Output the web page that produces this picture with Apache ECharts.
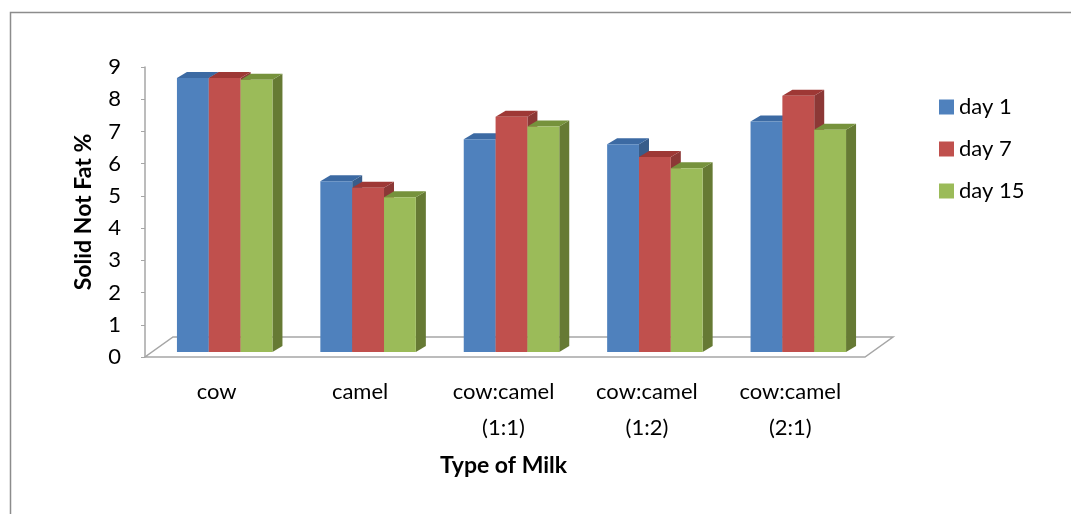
<!DOCTYPE html>
<html>
<head>
<meta charset="utf-8">
<title>Solid Not Fat %</title>
<script src="https://cdn.jsdelivr.net/npm/echarts@6/dist/echarts.min.js"></script>
<style>
	html, body { margin: 0; padding: 0; background: #fff; }
	#chart { width: 1071px; height: 514px; }
</style>
</head>
<body>
<div id="chart"></div>
<script>
// categories and values
var milkTypes = ['cow', 'camel', 'cow:camel\n(1:1)', 'cow:camel\n(1:2)', 'cow:camel\n(2:1)'];
var day1 = [8.5, 5.3, 6.6, 6.45, 7.15];
var day7 = [8.5, 5.1, 7.3, 6.05, 7.95];
var day15 = [8.45, 4.8, 7.0, 5.7, 6.9];
var yTicks = [0, 1, 2, 3, 4, 5, 6, 7, 8, 9];

// face colours: front, top, side
var faces = {
	'day 1': ['#4F81BD', '#3C6AA3', '#385D8A'],
	'day 7': ['#C0504D', '#9E3835', '#8C3836'],
	'day 15': ['#9BBB59', '#76923C', '#667A34']
};

var font = 'Lato, "Liberation Sans", sans-serif';

// 3d bar drawn from the axes (k = position inside the group)
function barRenderer(k, cols) {
	return function(params, api) {
		var idx = api.value(0);
		var base = api.coord([idx, 0]);
		var top = api.coord([idx, api.value(1)]);
		var bw = api.size([1, 0])[0] * 0.222;
		var x0 = base[0] - 1.5 * bw + k * bw + 8;
		var yb = base[1] - 5;
		var yt = top[1] - 5;
		var dx = 10, dy = -6;
		return {
			type: 'group',
			children: [{
				type: 'polygon',
				shape: { points: [[x0 + bw, yb], [x0 + bw + dx, yb + dy], [x0 + bw + dx, yt + dy], [x0 + bw, yt]] },
				style: { fill: cols[2] }
			}, {
				type: 'polygon',
				shape: { points: [[x0, yt], [x0 + dx, yt + dy], [x0 + bw + dx, yt + dy], [x0 + bw, yt]] },
				style: { fill: cols[1] }
			}, {
				type: 'rect',
				shape: { x: x0, y: yt, width: bw, height: yb - yt },
				style: { fill: cols[0] }
			}]
		};
	};
}

// floor of the 3d plot
function floorRenderer(params, api) {
	var cs = params.coordSys;
	var yb = cs.y + cs.height;
	var xl = cs.x, xr = cs.x + cs.width + 3;
	return {
		type: 'polygon',
		shape: { points: [[xl, yb], [xr, yb], [xr + 28, yb - 20], [xl + 28, yb - 20]] },
		style: { fill: '#fff', stroke: '#A6A6A6', lineWidth: 1.5 }
	};
}

function daySeries(name, k, values) {
	var data = [];
	for (var i = 0; i < values.length; i++) {
		data.push([i, values[i]]);
	}
	return {
		name: name,
		type: 'custom',
		renderItem: barRenderer(k, faces[name]),
		itemStyle: { color: faces[name][0] },
		encode: { x: 0, y: 1 },
		data: data
	};
}

var myChart = echarts.init(document.getElementById('chart'));
var option = {
	animation: false,
	backgroundColor: '#fff',
	graphic: [{
		type: 'rect',
		left: 8, top: 10,
		shape: { width: 1200, height: 600 },
		style: { fill: 'none', stroke: '#8C8C8C', lineWidth: 1.5 },
		silent: true
	}],
	legend: {
		orient: 'vertical',
		left: 934, top: 91,
		itemWidth: 15, itemHeight: 15,
		itemGap: 20,
		icon: 'rect',
		data: ['day 1', 'day 7', 'day 15'],
		textStyle: { fontSize: 22, color: '#000', fontFamily: font }
	},
	grid: { left: 145, right: 209, top: 67, bottom: 157 },
	xAxis: {
		type: 'category',
		data: milkTypes,
		name: 'Type of Milk',
		nameLocation: 'middle',
		nameGap: 97,
		nameTextStyle: { fontSize: 23, fontWeight: 'bold', color: '#000', fontFamily: font },
		axisLine: { show: false },
		axisTick: { show: false },
		axisLabel: { fontSize: 22, color: '#000', lineHeight: 36, margin: 17, fontFamily: font }
	},
	yAxis: {
		type: 'value',
		min: yTicks[0],
		max: yTicks[yTicks.length - 1],
		interval: 1,
		name: 'Solid Not Fat %',
		nameLocation: 'middle',
		nameGap: 50,
		nameTextStyle: { fontSize: 23, fontWeight: 'bold', color: '#000', fontFamily: font },
		axisLine: { show: true, lineStyle: { color: '#A6A6A6', width: 1.5 } },
		axisTick: { show: true, length: 4, lineStyle: { color: '#A6A6A6' } },
		splitLine: { show: false },
		axisLabel: { fontSize: 22, color: '#000', margin: 24, fontFamily: font }
	},
	series: [{
		name: 'floor',
		type: 'custom',
		renderItem: floorRenderer,
		silent: true,
		data: [[0, 0]]
	},
		daySeries('day 1', 0, day1),
		daySeries('day 7', 1, day7),
		daySeries('day 15', 2, day15)
	]
};
myChart.setOption(option);
</script>
</body>
</html>
